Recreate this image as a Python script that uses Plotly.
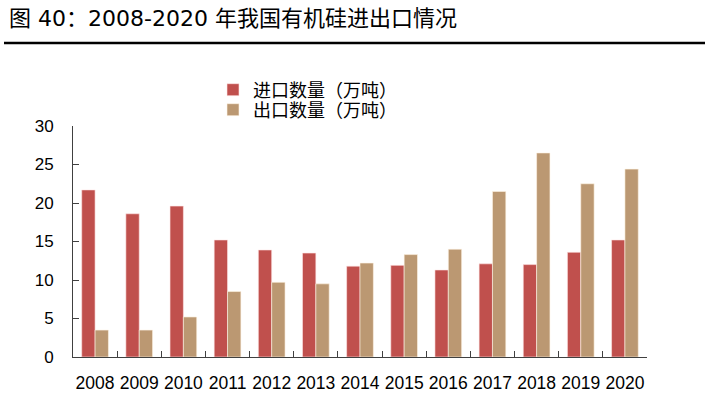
import plotly.graph_objects as go

years = ["2008", "2009", "2010", "2011", "2012", "2013", "2014",
         "2015", "2016", "2017", "2018", "2019", "2020"]
imports = [21.7, 18.6, 19.6, 15.2, 13.9, 13.5, 11.8, 11.9, 11.3, 12.1, 12.0, 13.6, 15.2]
exports = [3.5, 3.5, 5.2, 8.5, 9.7, 9.5, 12.2, 13.3, 14.0, 21.5, 26.5, 22.5, 24.4]
y_ticks = [0, 5, 10, 15, 20, 25, 30]

title_text = "图 40：2008-2020 年我国有机硅进出口情况"
name_import = "进口数量（万吨）"
name_export = "出口数量（万吨）"

W, H = 705, 399
ML, MR, MT, MB = 73, 58, 126, 42
PW, PH = W - ML - MR, H - MT - MB

def px_x(p):
    return (p - ML) / PW

def px_y(p):
    return (H - MB - p) / PH

fig = go.Figure()
fig.add_trace(go.Bar(
    x=years, y=imports, name=name_import, legend="legend", showlegend=True,
    marker=dict(color="#C0504D", line=dict(color="rgba(255,230,230,0.6)", width=1)),
))
fig.add_trace(go.Bar(
    x=years, y=exports, name=name_export, legend="legend2", showlegend=True,
    marker=dict(color="#BB9872", line=dict(color="rgba(255,245,230,0.6)", width=1)),
))

axis_col = "#404040"
leg_font = dict(family="Noto Sans CJK SC", size=18, color="black")
fig.update_layout(
    width=W, height=H,
    margin=dict(l=ML, r=MR, t=MT, b=MB, autoexpand=False),
    paper_bgcolor="white", plot_bgcolor="white",
    showlegend=True,
    barmode="group", bargap=0.395, bargroupgap=0,
    font=dict(family="Liberation Sans, Arial, sans-serif", size=17, color="black"),
    legend=dict(x=px_x(213), y=px_y(90), xanchor="left", yanchor="middle",
                font=leg_font, bgcolor="rgba(0,0,0,0)", borderwidth=0),
    legend2=dict(x=px_x(213), y=px_y(110), xanchor="left", yanchor="middle",
                 font=leg_font, bgcolor="rgba(0,0,0,0)", borderwidth=0),
    xaxis=dict(
        type="category", showline=True, linecolor=axis_col, linewidth=1,
        ticks="inside", ticklen=6, tickcolor=axis_col, tickson="boundaries",
        showgrid=False, ticklabelstandoff=10, tickangle=0, automargin=False,
        tickfont=dict(family="Liberation Sans, Arial, sans-serif", size=17.5),
    ),
    yaxis=dict(
        range=[0, 30], tickvals=y_ticks, showline=True, linecolor=axis_col, linewidth=1,
        ticks="inside", ticklen=6, tickcolor=axis_col, showgrid=False, zeroline=False,
        ticklabelstandoff=15, automargin=False,
        tickfont=dict(family="Liberation Sans, Arial, sans-serif", size=17),
    ),
    annotations=[dict(
        text=title_text, xref="paper", yref="paper",
        x=px_x(7), y=px_y(18), xanchor="left", yanchor="middle", showarrow=False,
        font=dict(family="DejaVu Sans, Noto Sans CJK SC", size=22, color="black"),
    )],
    shapes=[dict(
        type="line", xref="paper", yref="paper",
        x0=px_x(4), x1=px_x(705), y0=px_y(43), y1=px_y(43),
        line=dict(color="black", width=2.5),
    )],
)

fig.write_html("out.html", config={"displayModeBar": False},
               post_script="document.body.style.margin='0px';")
